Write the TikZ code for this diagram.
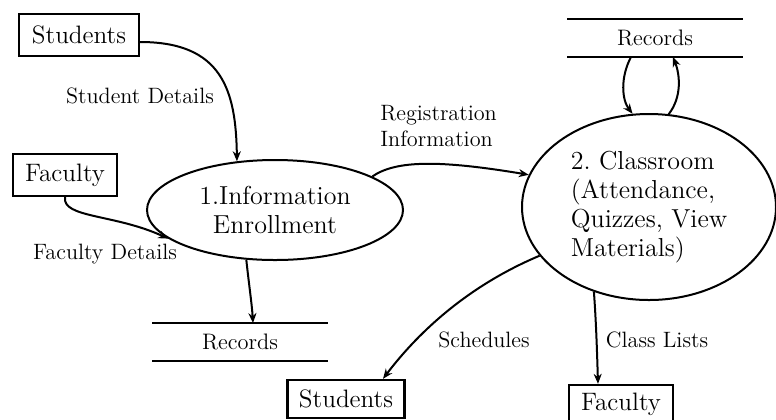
\documentclass[tikz,border=0pt]{standalone}
\usetikzlibrary{shapes.geometric,arrows.meta}
\frenchspacing
\begin{document}
\begin{tikzpicture}[x=0.5pt,y=-0.5pt,
  ent/.style={draw,line width=1.2pt,inner sep=0pt,font=\fontsize{12.6}{15}\selectfont},
  proc/.style={draw,ellipse,line width=1pt,inner sep=0pt,font=\fontsize{13}{14.5}\selectfont},
  store/.style={inner sep=0pt,minimum width=87.5pt,minimum height=18.5pt,font=\fontsize{11.2}{13}\selectfont},
  lbl/.style={inner sep=0pt,font=\fontsize{11.1}{13}\selectfont},
  arr/.style={line width=1pt,-{Stealth[length=5pt,width=4pt]}}]
\useasboundingbox (0,0) rectangle (776,419);
% entities
\node[ent,minimum width=60pt,minimum height=21pt] (s1) at (79,35) {Students};
\node[ent,minimum width=52pt,minimum height=21pt] (f1) at (65,175) {Faculty};
\node[ent,minimum width=58.5pt,minimum height=19pt] (s2) at (346,399) {Students};
\node[ent,minimum width=52pt,minimum height=19pt] (f2) at (621,404) {Faculty};
% processes
\node[proc,minimum width=128pt,minimum height=50pt,align=center] (e1) at (275,210) {1.Information\\Enrollment};
\node[proc,minimum width=127pt,minimum height=93pt,align=left] (e2) at (649,207) {2. Classroom\\(Attendance,\\Quizzes, View\\Materials)};
% data stores
\node[store] (r1) at (655,38) {Records};
\draw[line width=1.2pt] (r1.north west) -- (r1.north east) (r1.south west) -- (r1.south east);
\node[store] (r2) at (240,342) {Records};
\draw[line width=1.2pt] (r2.north west) -- (r2.north east) (r2.south west) -- (r2.south east);
% flows
\draw[arr] ([yshift=-3.5pt]s1.east) .. controls (222,42) and (236,90) .. (e1.128);
\node[lbl] (l1) at (140,96) {Student Details};
\draw[arr] (f1.south) .. controls (62,218) and (115,214) .. (e1.195);
\node[lbl] (l2) at (105,254) {Faculty Details};
\draw[arr] (e1.240) .. controls (249,285) and (252,305) .. ([xshift=6.5pt]r2.north);
\draw[arr] (e1.19) .. controls (396,160) and (440,160) .. (e2.165);
\node[lbl,align=left,anchor=west] (l3) at (380,126) {Registration\\Information};
\draw[arr] ([xshift=-12pt]r1.south) .. controls (620,78) and (622,100) .. (e2.100);
\draw[arr] (e2.78) .. controls (682,97) and (680,75) .. ([xshift=9pt]r1.south);
\draw[arr] (e2.204) .. controls (470,285) and (420,330) .. ([xshift=18.5pt]s2.north);
\node[lbl] (l4) at (484,340) {Schedules};
\draw[arr] (e2.237) .. controls (596,320) and (597,350) .. ([xshift=-11.5pt]f2.north);
\node[lbl] (l5) at (657,340) {Class Lists};
\end{tikzpicture}
\end{document}
